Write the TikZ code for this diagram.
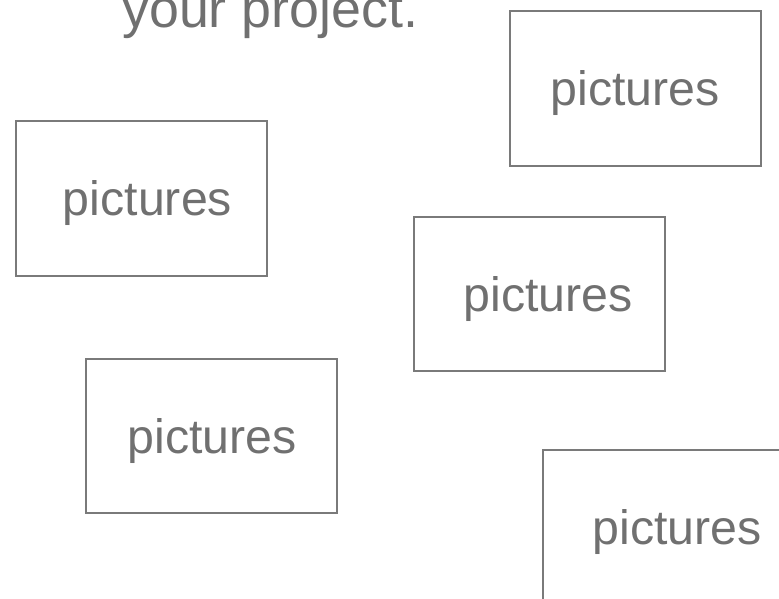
\documentclass[tikz,border=0pt]{standalone}
\usepackage{fontspec}
\setmainfont{Liberation Sans}
\usepackage{xcolor}
\definecolor{framegray}{HTML}{7A7A7A}
\definecolor{textgray}{HTML}{707070}
\newcommand{\picshift}[1]{\hspace*{#1}}

\begin{document}
\begin{tikzpicture}[x=1pt, y=-1pt]
\tikzstyle{picbox}=[draw=framegray, line width=2pt, minimum width=251pt, minimum height=154pt, inner sep=0pt, text=textgray, text depth=0pt, font=\fontsize{48.3}{58}\selectfont]
\clip (0,0) rectangle (779,599);
\useasboundingbox (0,0) rectangle (779,599);
\node[anchor=base west, text=textgray, inner sep=0pt, font=\fontsize{53.8}{64}\selectfont] (title) at (122,28) {your project.};
\node[picbox] (pic1) at (635,88.5) {pictures};
\node[picbox] (pic2) at (141.5,198.5) {\picshift{12pt}pictures};
\node[picbox] (pic3) at (539,294) {\picshift{18pt}pictures};
\node[picbox] (pic4) at (211,435.5) {\picshift{2pt}pictures};
\node[picbox] (pic5) at (668,526.5) {\picshift{18pt}pictures};
\end{tikzpicture}
\end{document}
